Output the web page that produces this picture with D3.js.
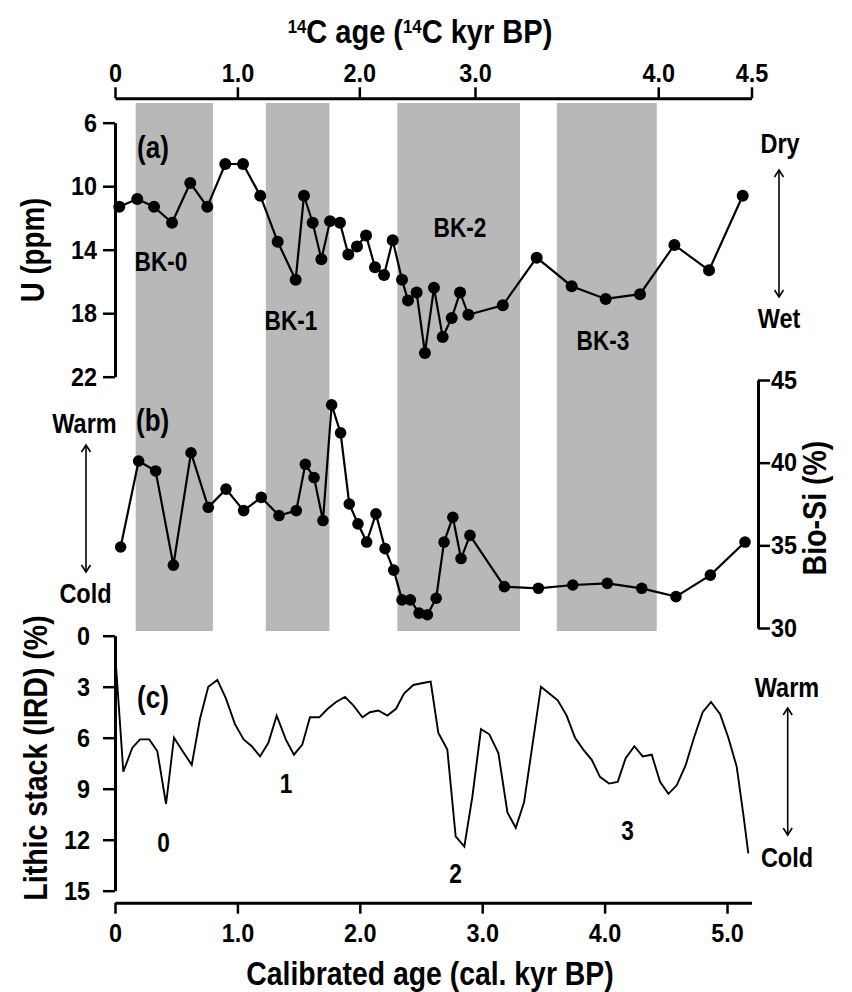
<!DOCTYPE html>
<html>
<head>
<meta charset="utf-8">
<script src="https://cdn.jsdelivr.net/npm/d3@7"></script>
<style>
  body { margin: 0; background: #fff; }
  svg { display: block; font-family: "Liberation Sans", Arial, sans-serif; font-weight: bold; }
</style>
</head>
<body>
<div id="chart"></div>
<script>
// =========================
// DATA
// =========================
// (a) U (ppm) vs calibrated age (cal. kyr BP)
const uAge = [0.035, 0.182, 0.319, 0.466, 0.615, 0.754, 0.901, 1.046, 1.187, 1.329,
  1.476, 1.544, 1.615, 1.686, 1.757, 1.838, 1.906, 1.977, 2.051, 2.124,
  2.198, 2.269, 2.345, 2.394, 2.464, 2.532, 2.606, 2.677, 2.751, 2.819,
  2.887, 3.168, 3.445, 3.731, 4.009, 4.289, 4.570, 4.853, 5.128];
const uPpm = [11.3, 10.8, 11.3, 12.3, 9.8, 11.3, 8.6, 8.6, 10.6, 13.5,
  15.9, 10.6, 12.3, 14.6, 12.2, 12.3, 14.3, 13.8, 13.1, 15.1,
  15.6, 13.4, 15.9, 17.2, 16.7, 20.5, 16.4, 19.5, 18.3, 16.7,
  18.1, 17.5, 14.5, 16.3, 17.1, 16.8, 13.7, 15.3, 10.6];

// (b) Bio-Si (%)
const bioAge = [0.046, 0.193, 0.332, 0.477, 0.621, 0.762, 0.907, 1.051, 1.195, 1.340,
  1.481, 1.555, 1.626, 1.699, 1.770, 1.843, 1.914, 1.985, 2.056, 2.132,
  2.206, 2.277, 2.345, 2.413, 2.484, 2.552, 2.624, 2.688, 2.760, 2.827,
  2.900, 3.181, 3.459, 3.740, 4.022, 4.303, 4.583, 4.864, 5.147];
const bioSi = [34.9, 40.1, 39.5, 33.8, 40.6, 37.3, 38.4, 37.1, 37.9, 36.8,
  37.1, 39.9, 39.1, 36.5, 43.5, 41.8, 37.5, 36.3, 35.2, 36.9,
  34.8, 33.5, 31.7, 31.7, 30.9, 30.8, 31.8, 35.2, 36.7, 34.2,
  35.6, 32.5, 32.4, 32.6, 32.7, 32.4, 31.9, 33.2, 35.2];

// (c) Lithic stack (IRD) (%)
const irdAge = [0, 0.068, 0.141, 0.204, 0.28, 0.346, 0.417, 0.482, 0.553, 0.627,
  0.694, 0.762, 0.836, 0.907, 0.98, 1.051, 1.117, 1.185, 1.253, 1.321,
  1.395, 1.462, 1.53, 1.593, 1.669, 1.738, 1.806, 1.879, 1.947, 2.021,
  2.083, 2.151, 2.225, 2.296, 2.361, 2.437, 2.505, 2.579, 2.641, 2.715,
  2.783, 2.854, 2.919, 2.99, 3.058, 3.132, 3.206, 3.274, 3.342, 3.413,
  3.48, 3.548, 3.617, 3.69, 3.758, 3.826, 3.895, 3.962, 4.036, 4.107,
  4.172, 4.243, 4.311, 4.385, 4.453, 4.521, 4.589, 4.663, 4.73, 4.801,
  4.869, 4.943, 5.011, 5.079, 5.133, 5.174];
const irdPct = [0.9, 8.0, 6.6, 6.1, 6.1, 6.8, 9.9, 6.0, 6.8, 7.6,
  4.9, 3.0, 2.6, 3.7, 5.2, 6.1, 6.5, 7.1, 6.3, 4.7,
  6.1, 7.0, 6.4, 4.8, 4.8, 4.3, 3.9, 3.6, 4.1, 4.8,
  4.5, 4.4, 4.7, 4.3, 3.4, 2.9, 2.8, 2.7, 5.7, 6.7,
  11.8, 12.4, 9.5, 5.5, 5.8, 6.9, 10.4, 11.3, 9.8, 6.3,
  3.0, 3.4, 3.8, 4.7, 6.0, 6.7, 7.3, 8.3, 8.7, 8.6,
  7.2, 6.5, 7.1, 7.0, 8.6, 9.3, 8.8, 7.6, 6.0, 4.5,
  3.9, 4.6, 6.0, 7.7, 10.5, 12.8];

// shaded BK events (cal. kyr BP)
const bandNames = ["BK-0", "BK-1", "BK-2", "BK-3"];
const bandStart = [0.169, 1.232, 2.307, 3.609];
const bandEnd = [0.800, 1.752, 3.309, 4.426];

// top 14C axis: label and where it falls on the calibrated scale
const c14Labels = ["0", "1.0", "2.0", "3.0", "4.0", "4.5"];
const c14AtCal = [0, 1.0, 1.996, 2.941, 4.438, 5.2];

const calTicks = [0, 1, 2, 3, 4, 5];
const uTicks = [6, 10, 14, 18, 22];
const bioTicks = [30, 35, 40, 45];
const irdTicks = [0, 3, 6, 9, 12, 15];

// =========================
// SETUP
// =========================
const width = 852;
const height = 992;
const SX = 0.84; // narrow bold face

const svg = d3.select("#chart")
  .append("svg")
  .attr("width", width)
  .attr("height", height);

const x = d3.scaleLinear().domain([0, 5.2]).range([115, 751.5]);
const yU = d3.scaleLinear().domain([6, 22]).range([122.7, 376.7]);
const yB = d3.scaleLinear().domain([30, 45]).range([628, 380]);
const yL = d3.scaleLinear().domain([0, 15]).range([635.7, 890.7]);

function label(str, px, py, size, opts = {}) {
  return svg.append("text")
    .attr("transform", `translate(${px},${py}) rotate(${opts.rot || 0}) scale(${opts.sx || SX},1)`)
    .attr("text-anchor", opts.anchor || "middle")
    .style("font-size", size + "px")
    .text(str);
}

function styleAxis(g, offX) {
  g.attr("font-family", null).attr("font-size", null);
  g.select(".domain").attr("stroke-width", 3);
  g.selectAll(".tick line").attr("stroke-width", 2.5);
  g.selectAll(".tick text")
    .style("font-size", "26px")
    .attr("transform", `scale(0.9,1)`);
  if (offX !== undefined) g.selectAll(".tick text").attr("x", offX / 0.9);
}

function updown(px, y0, y1) {
  svg.append("line")
    .attr("x1", px).attr("x2", px).attr("y1", y0).attr("y2", y1)
    .attr("stroke", "#000").attr("stroke-width", 1.6);
  svg.append("path")
    .attr("d", `M${px - 4.5},${y0 + 7}L${px},${y0}L${px + 4.5},${y0 + 7}`
      + `M${px - 4.5},${y1 - 7}L${px},${y1}L${px + 4.5},${y1 - 7}`)
    .attr("fill", "none").attr("stroke", "#000").attr("stroke-width", 1.6);
}

// =========================
// BANDS
// =========================
svg.selectAll("rect.band")
  .data(bandStart)
  .enter()
  .append("rect")
  .attr("class", "band")
  .attr("x", (d, i) => x(d))
  .attr("width", (d, i) => x(bandEnd[i]) - x(d))
  .attr("y", 103)
  .attr("height", 528)
  .attr("fill", "#b8b8b8");

// =========================
// AXES
// =========================
const topAxis = svg.append("g")
  .attr("transform", "translate(0,98.3)")
  .call(d3.axisTop(x).tickValues(c14AtCal)
    .tickFormat((d, i) => c14Labels[i]).tickSize(11).tickSizeOuter(0).tickPadding(5));
styleAxis(topAxis);

const botAxis = svg.append("g")
  .attr("transform", "translate(0,902.7)")
  .call(d3.axisBottom(x).tickValues(calTicks)
    .tickFormat(d => d === 0 ? "0" : d.toFixed(1)).tickSize(11).tickSizeOuter(0).tickPadding(10));
styleAxis(botAxis);

const uAxis = svg.append("g")
  .attr("transform", "translate(115,0)")
  .call(d3.axisLeft(yU).tickValues(uTicks).tickSize(12).tickSizeOuter(0));
styleAxis(uAxis, -18);

const bioAxis = svg.append("g")
  .attr("transform", "translate(758,0)")
  .call(d3.axisRight(yB).tickValues(bioTicks).tickSize(12).tickSizeOuter(0));
styleAxis(bioAxis, 13);

const irdAxis = svg.append("g")
  .attr("transform", "translate(115,0)")
  .call(d3.axisLeft(yL).tickValues(irdTicks).tickSize(12).tickSizeOuter(0));
styleAxis(irdAxis, -25);

// =========================
// SERIES
// =========================
const uLine = d3.line().x((d, i) => x(uAge[i])).y(d => yU(d));
svg.append("path").datum(uPpm)
  .attr("d", uLine).attr("fill", "none").attr("stroke", "#000").attr("stroke-width", 2.2);
svg.selectAll("circle.u").data(uPpm).enter().append("circle")
  .attr("class", "u")
  .attr("cx", (d, i) => x(uAge[i])).attr("cy", d => yU(d)).attr("r", 6);

const bioLine = d3.line().x((d, i) => x(bioAge[i])).y(d => yB(d));
svg.append("path").datum(bioSi)
  .attr("d", bioLine).attr("fill", "none").attr("stroke", "#000").attr("stroke-width", 2.2);
svg.selectAll("circle.b").data(bioSi).enter().append("circle")
  .attr("class", "b")
  .attr("cx", (d, i) => x(bioAge[i])).attr("cy", d => yB(d)).attr("r", 5.8);

const irdLine = d3.line().x((d, i) => x(irdAge[i])).y(d => yL(d));
svg.append("path").datum(irdPct)
  .attr("d", irdLine).attr("fill", "none").attr("stroke", "#000").attr("stroke-width", 1.9);

// =========================
// TITLES
// =========================
const tt = svg.append("text")
  .attr("transform", "translate(420,43) scale(0.88,1)")
  .attr("text-anchor", "middle")
  .style("font-size", "33px");
tt.append("tspan").attr("dy", -10).style("font-size", "19px").text("14");
tt.append("tspan").attr("dy", 10).text("C age (");
tt.append("tspan").attr("dy", -10).style("font-size", "19px").text("14");
tt.append("tspan").attr("dy", 10).text("C kyr BP)");

label("Calibrated age (cal. kyr BP)", 430, 985, 33, { sx: 0.86 });
label("U (ppm)", 44, 250, 33, { rot: -90 });
label("Bio-Si (%)", 826, 508, 34, { rot: -90 });
label("Lithic stack (IRD) (%)", 47, 758, 34, { rot: -90 });

// panel tags
label("(a)", 137, 158, 31, { anchor: "start" });
label("(b)", 136, 431, 31, { anchor: "start" });
label("(c)", 137, 708, 31, { anchor: "start" });

// BK events
const bkPos = [[161, 271], [291, 330], [460, 237], [603, 350]];
bandNames.forEach((n, i) => label(n, bkPos[i][0], bkPos[i][1], 27));

// IRD event numbers
label("0", 163.5, 852, 27);
label("1", 286, 793, 27);
label("2", 455.5, 883, 27);
label("3", 627.5, 840, 27);

// =========================
// DIRECTION HINTS
// =========================
label("Dry", 780, 153, 28);
label("Wet", 779, 328, 28);
updown(779, 170, 297);

label("Warm", 84.5, 433, 28);
label("Cold", 85.5, 603, 28);
updown(86, 445, 572);

label("Warm", 787, 697, 28);
label("Cold", 787, 867, 28);
updown(787.7, 708, 835);
</script>
</body>
</html>
